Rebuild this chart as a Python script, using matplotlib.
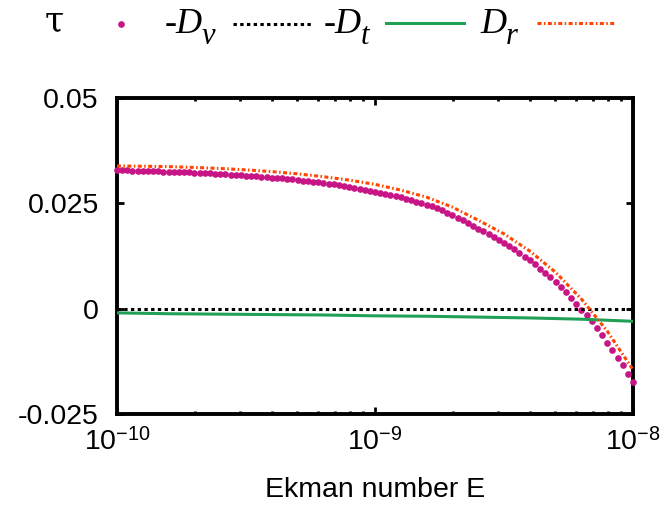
import numpy as np
import matplotlib
matplotlib.use("Agg")
import matplotlib.pyplot as plt
from matplotlib.lines import Line2D
from matplotlib.ticker import FixedLocator, FixedFormatter, LogLocator, NullFormatter


# =========================
# DATI
# =========================

# griglia in E: 101 punti equispaziati in log10(E), da 1e-10 a 1e-8
E_exponents = np.linspace(-10, -8, 101)
E = 10.0 ** E_exponents

# tau (punti viola)
tau = [
    0.03286, 0.03283, 0.03280, 0.03277, 0.03274, 0.03271, 0.03267, 0.03263, 0.03260, 0.03255,
    0.03251, 0.03247, 0.03242, 0.03237, 0.03232, 0.03227, 0.03222, 0.03216, 0.03210, 0.03203,
    0.03197, 0.03190, 0.03183, 0.03175, 0.03168, 0.03159, 0.03151, 0.03142, 0.03133, 0.03123,
    0.03113, 0.03102, 0.03091, 0.03079, 0.03067, 0.03055, 0.03041, 0.03027, 0.03013, 0.02998,
    0.02982, 0.02966, 0.02948, 0.02930, 0.02912, 0.02892, 0.02871, 0.02850, 0.02828, 0.02804,
    0.02780, 0.02754, 0.02728, 0.02700, 0.02671, 0.02640, 0.02608, 0.02575, 0.02540, 0.02504,
    0.02466, 0.02427, 0.02385, 0.02332, 0.02277, 0.02220, 0.02160, 0.02099, 0.02035, 0.01969,
    0.01900, 0.01839, 0.01775, 0.01708, 0.01638, 0.01565, 0.01488, 0.01408, 0.01325, 0.01238,
    0.01147, 0.01052, 0.00952, 0.00849, 0.00740, 0.00627, 0.00508, 0.00385, 0.00255, 0.00120,
    -0.00021, -0.00148, -0.00302, -0.00463, -0.00631, -0.00807, -0.00980, -0.01162, -0.01347, -0.01542,
    -0.01750,
]

# curve di linea
E_lines_exp = [-10.0, -9.8, -9.6, -9.4, -9.2, -9.0, -8.8, -8.6, -8.4, -8.2, -8.0]
minus_Dv = [0.0, 0.0, 0.0, 0.0, 0.0, 0.0, 0.0, 0.0, 0.0, 0.0, 0.0]
minus_Dt = [-0.0010, -0.0012, -0.0013, -0.0014, -0.0015, -0.0017,
            -0.0018, -0.0020, -0.0022, -0.0025, -0.0030]

E_Dr_exp = [-10.0, -9.9, -9.8, -9.7, -9.6, -9.5, -9.4, -9.3, -9.2, -9.1, -9.0,
            -8.9, -8.8, -8.7, -8.6, -8.5, -8.4, -8.3, -8.2, -8.1, -8.0]
Dr = [0.03386, 0.03381, 0.03371, 0.03352, 0.03327, 0.03294, 0.03253, 0.03200,
      0.03132, 0.03052, 0.02950, 0.02815, 0.02646, 0.02410, 0.02100, 0.01775,
      0.01367, 0.00862, 0.00229, -0.00532, -0.01450]

y_ticks = [-0.025, 0, 0.025, 0.05]
y_tick_labels = ["-0.025", "0", "0.025", "0.05"]
x_ticks = [1e-10, 1e-9, 1e-8]
x_tick_labels = [r"$10^{-10}$", r"$10^{-9}$", r"$10^{-8}$"]


# =========================
# STILE
# =========================

plt.rcParams["font.family"] = ["Liberation Sans", "DejaVu Sans"]
plt.rcParams["mathtext.fontset"] = "custom"
plt.rcParams["mathtext.rm"] = "Liberation Sans"
plt.rcParams["mathtext.it"] = "Liberation Serif:italic"
plt.rcParams["axes.unicode_minus"] = False

PINK = "#c71585"
GREEN = "#1fa055"
ORANGE = "#ff4500"
DOTTED = (0, (1.1, 1.1))
DASHDOT = (0, (1.3, 0.8, 0.5, 0.8))

W, H = 662, 509
fig = plt.figure(figsize=(W / 100, H / 100), dpi=100)
ax = fig.add_axes([117 / W, 1 - 414 / H, (633 - 117) / W, (414 - 98) / H])

# =========================
# CURVE
# =========================

ax.plot(E, tau, linestyle="none", marker="o", markersize=4.8,
        color=PINK, markeredgewidth=0, clip_on=False, zorder=3)
ax.plot(10.0 ** np.array(E_lines_exp), minus_Dv, color="black", linewidth=2.2,
        linestyle=DOTTED, zorder=4)
ax.plot(10.0 ** np.array(E_lines_exp), minus_Dt, color=GREEN, linewidth=2.2, zorder=5)
ax.plot(10.0 ** np.array(E_Dr_exp), Dr, color=ORANGE, linewidth=2.2,
        linestyle=DASHDOT, zorder=6)

# =========================
# ASSI
# =========================

ax.set_xscale("log")
ax.set_xlim(1e-10, 1e-8)
ax.set_ylim(-0.025, 0.05)

ax.yaxis.set_major_locator(FixedLocator(y_ticks))
ax.yaxis.set_major_formatter(FixedFormatter(y_tick_labels))
ax.xaxis.set_major_locator(FixedLocator(x_ticks))
ax.xaxis.set_major_formatter(FixedFormatter(x_tick_labels))
ax.xaxis.set_minor_locator(LogLocator(base=10, subs=np.arange(2, 10)))
ax.xaxis.set_minor_formatter(NullFormatter())

for s in ax.spines.values():
    s.set_linewidth(2.8)

ax.tick_params(which="both", direction="in", top=True, right=True, width=2.0)
ax.tick_params(which="major", length=5)
ax.tick_params(which="minor", length=2.5)
ax.tick_params(axis="y", labelsize=20.5, pad=13)
ax.tick_params(axis="x", labelsize=20.5, pad=10)

ax.set_xlabel("Ekman number E", fontsize=20.5, labelpad=15)

# =========================
# LEGENDA (stile gnuplot: testo allineato a destra, poi campione)
# =========================

def fx(px):
    return px / W

def fy(py):
    return 1 - py / H

SERIF = "Liberation Serif"

fig.text(fx(64), fy(31), "τ", fontsize=25, family="DejaVu Serif",
         ha="right", va="baseline")
fig.add_artist(Line2D([fx(121)], [fy(24)], marker="o", markersize=4.8,
                      color=PINK, markeredgewidth=0, linestyle="none"))

# -D_v
fig.text(fx(203), fy(33), "-D", fontsize=26, family=SERIF, style="italic",
         ha="right", va="baseline")
fig.text(fx(202), fy(44), "v", fontsize=22, family=SERIF, style="italic",
         ha="left", va="baseline")
fig.add_artist(Line2D([fx(233), fx(312)], [fy(24), fy(24)], color="black",
                      linewidth=2.2, linestyle=DOTTED))

# -D_t
fig.text(fx(362), fy(33), "-D", fontsize=26, family=SERIF, style="italic",
         ha="right", va="baseline")
fig.text(fx(361), fy(44), "t", fontsize=22, family=SERIF, style="italic",
         ha="left", va="baseline")
fig.add_artist(Line2D([fx(386), fx(464)], [fy(23), fy(23)], color=GREEN,
                      linewidth=2.2))

# D_r
fig.text(fx(507), fy(33), "D", fontsize=26, family=SERIF, style="italic",
         ha="right", va="baseline")
fig.text(fx(506), fy(44), "r", fontsize=22, family=SERIF, style="italic",
         ha="left", va="baseline")
fig.add_artist(Line2D([fx(537), fx(615)], [fy(23), fy(23)], color=ORANGE,
                      linewidth=2.2, linestyle=DASHDOT))

plt.savefig("out.png", dpi=100)
plt.close()
